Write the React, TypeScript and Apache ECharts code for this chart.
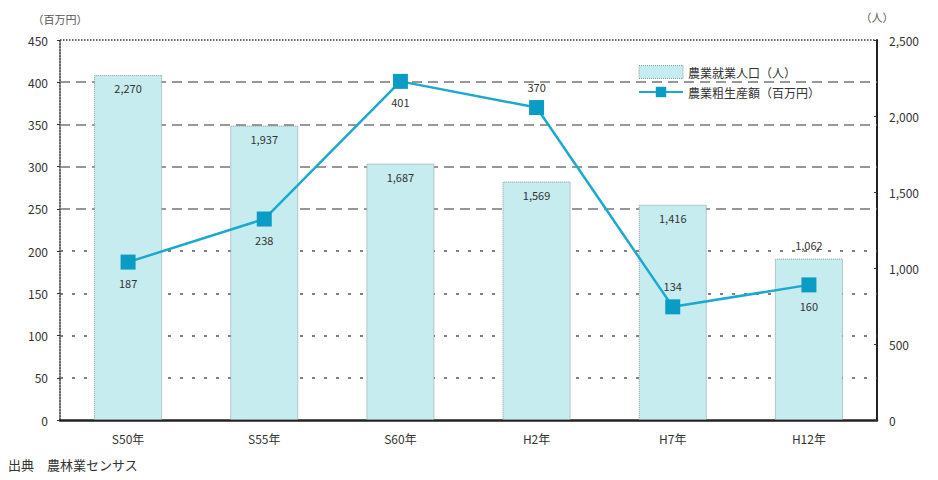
import React, { useEffect, useRef } from "react";
import * as echarts from "echarts";

const categories = ["S50年", "S55年", "S60年", "H2年", "H7年", "H12年"];
const workers = [2270, 1937, 1687, 1569, 1416, 1062];
const output = [187, 238, 401, 370, 134, 160];
const outputLabelPos = ["bottom", "bottom", "bottom", "top", "top", "bottom"];
const workerLabelPos = ["insideTop", "insideTop", "insideTop", "insideTop", "insideTop", "top"];
const gridDashed = [250, 300, 350, 400];
const gridDotted = [50, 100, 150, 200];
const leftMax = 450;
const rightMax = 2500;

const FONT = '"Noto Sans CJK JP", "Noto Sans", sans-serif';

export default function App() {
  const ref = useRef<HTMLDivElement>(null);
  useEffect(() => {
    const chart = echarts.init(ref.current!, null, { renderer: "svg" });
    const fmt = (v: number) => v.toLocaleString("en-US");
    chart.setOption({
      animation: false,
      textStyle: { fontFamily: FONT },
      grid: { left: 60, right: 61, top: 40, bottom: 60 },
      legend: {
        orient: "vertical",
        left: 632,
        top: 62,
        itemWidth: 44,
        itemHeight: 13,
        itemGap: 7,
        backgroundColor: "#fff",
        padding: [3, 6, 3, 6],
        textStyle: { fontSize: 12, color: "#333", fontFamily: FONT },
        data: [
          {
            name: "農業就業人口（人）",
            icon: "rect",
            itemStyle: { borderColor: "#8a9a9c", borderType: "dotted", borderWidth: 1 },
          },
          { name: "農業粗生産額（百万円）" },
        ],
      },
      xAxis: {
        type: "category",
        data: categories,
        axisLine: { lineStyle: { color: "#222", width: 2.5 } },
        axisTick: { show: false },
        axisLabel: { color: "#333", fontSize: 12, margin: 12, fontFamily: FONT },
      },
      yAxis: [
        {
          type: "value",
          min: 0,
          max: leftMax,
          interval: 50,
          name: "（百万円）",
          nameLocation: "end",
          nameGap: 16,
          nameTextStyle: { color: "#555", fontSize: 11, align: "center" },
          axisLine: { show: true, lineStyle: { color: "#333", type: "dotted", width: 1.5 } },
          axisTick: { show: true, length: 3, lineStyle: { color: "#333" } },
          axisLabel: { color: "#333", fontSize: 12, margin: 12 },
          splitLine: { show: false },
        },
        {
          type: "value",
          min: 0,
          max: rightMax,
          interval: 500,
          name: "（人）",
          nameLocation: "end",
          nameGap: 18,
          nameTextStyle: { color: "#555", fontSize: 11, align: "center" },
          axisLine: { show: true, lineStyle: { color: "#222", width: 2 } },
          axisTick: { show: true, inside: true, length: 3, lineStyle: { color: "#333" } },
          axisLabel: { color: "#333", fontSize: 12, margin: 12, formatter: (v: number) => fmt(v) },
          splitLine: { show: false },
        },
      ],
      series: [
        {
          name: "grid",
          type: "line",
          yAxisIndex: 0,
          data: [],
          silent: true,
          markLine: {
            silent: true,
            symbol: "none",
            label: { show: false },
            data: [
              ...gridDashed.map((v) => ({ yAxis: v, lineStyle: { color: "#777", type: [10, 6], width: 1.5 } })),
              ...gridDotted.map((v) => ({ yAxis: v, lineStyle: { color: "#555", type: [3, 9], width: 1.5 } })),
              { yAxis: leftMax, lineStyle: { color: "#333", type: "dotted", width: 1.5 } },
            ],
          },
        },
        {
          name: "農業就業人口（人）",
          type: "bar",
          yAxisIndex: 1,
          z: 10,
          barWidth: "50%",
          data: workers.map((v, i) => ({
            value: v,
            label: { position: workerLabelPos[i] },
          })),
          itemStyle: {
            color: "#c6ecef",
            borderColor: "#8a9a9c",
            borderType: "dotted",
            borderWidth: 1,
          },
          label: {
            show: true,
            distance: 8,
            color: "#333",
            fontSize: 11,
            formatter: (p: any) => fmt(p.value),
          },
        },
        {
          name: "農業粗生産額（百万円）",
          type: "line",
          yAxisIndex: 0,
          z: 11,
          data: output.map((v, i) => ({
            value: v,
            label: { position: outputLabelPos[i] },
          })),
          symbol: "rect",
          symbolSize: 15,
          lineStyle: { color: "#1ba9cf", width: 2.5 },
          itemStyle: { color: "#0a9cc4" },
          label: { show: true, distance: 8, color: "#333", fontSize: 11 },
        },
      ],
      graphic: [
        {
          type: "text",
          left: 8,
          top: 458,
          style: { text: "出典　農林業センサス", fill: "#333", fontSize: 13, fontFamily: FONT },
        },
      ],
    });
    return () => chart.dispose();
  }, []);
  return (
    <div
      ref={ref}
      style={{ position: "fixed", left: 0, top: 0, width: 938, height: 480, background: "#fff" }}
    />
  );
}
